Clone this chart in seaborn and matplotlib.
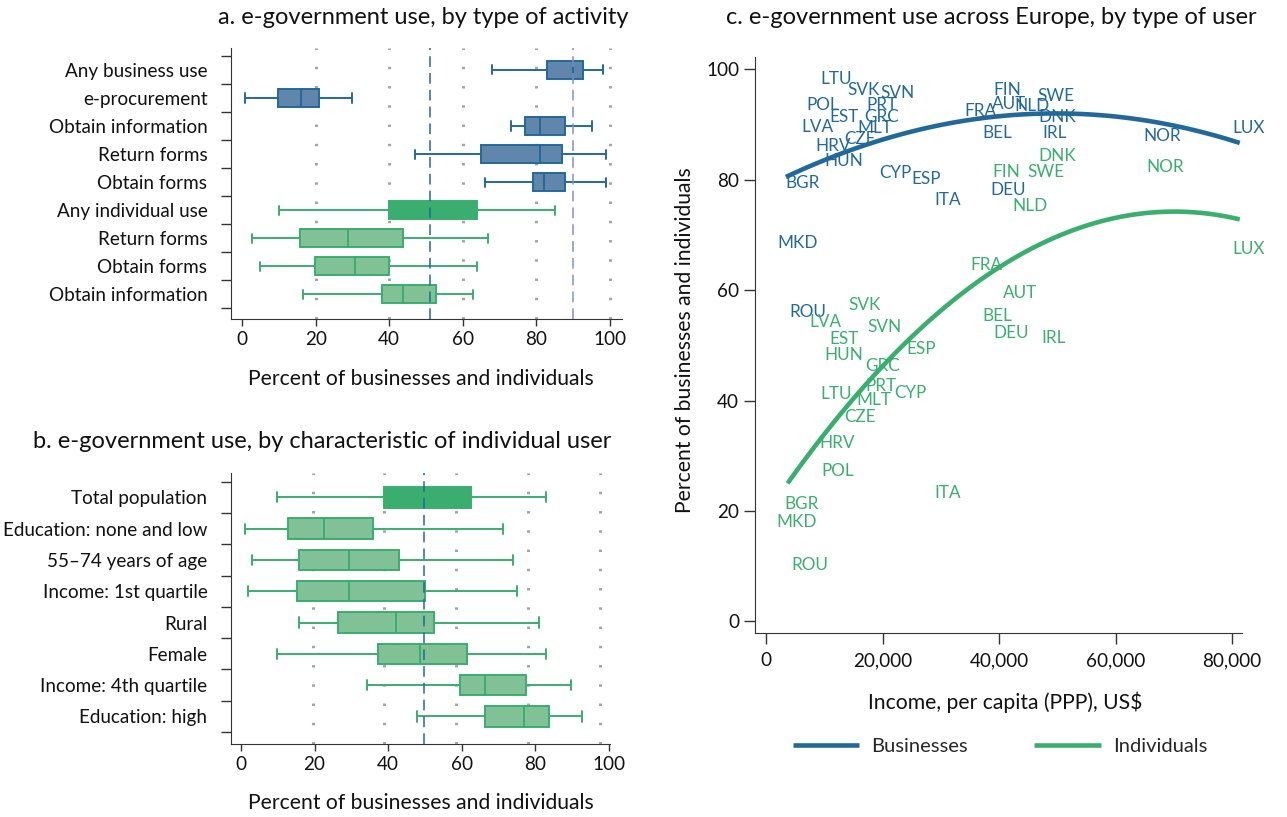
import numpy as np
import pandas as pd
import matplotlib.pyplot as plt
import seaborn as sns

sns.set_style("ticks")
plt.rcParams["font.family"] = ["Lato", "DejaVu Sans"]
plt.rcParams["axes.edgecolor"] = "#333333"
plt.rcParams["xtick.color"] = "#333333"
plt.rcParams["ytick.color"] = "#333333"
plt.rcParams["xtick.labelcolor"] = "#111111"
plt.rcParams["ytick.labelcolor"] = "#111111"

BLUE = "#22699a"
BLUE_FILL = "#6186ab"
GREEN = "#3aae6e"
GREEN_FILL = "#80c295"
LAVENDER = "#7f90d0"

# --- panel a: e-government use by type of activity (five-number summaries)
act_labels = ["Any business use", "e-procurement", "Obtain information", "Return forms",
              "Obtain forms", "Any individual use", "Return forms", "Obtain forms",
              "Obtain information"]
act_group = ["biz", "biz", "biz", "biz", "biz", "ind_all", "ind", "ind", "ind"]
act_min = [68, 0.8, 73, 47, 66, 10, 2.6, 4.8, 16.7]
act_q1 = [82.9, 9.9, 76.9, 65, 79, 39.9, 15.8, 19.7, 38]
act_med = [89.9, 15.9, 81, 81, 82, 51, 28.9, 30.8, 43.7]
act_q3 = [92.8, 20.8, 87.8, 86.9, 87.8, 63.8, 43.7, 39.9, 52.7]
act_max = [98, 29.9, 95.1, 98.9, 98.9, 85, 67, 63.9, 62.9]

# --- panel b: individual use by characteristic of user
char_labels = ["Total population", "Education: none and low", "55–74 years of age",
               "Income: 1st quartile", "Rural", "Female", "Income: 4th quartile",
               "Education: high"]
char_group = ["ind_all", "ind", "ind", "ind", "ind", "ind", "ind", "ind"]
char_min = [9.7, 1.1, 3, 1.9, 15.7, 9.9, 34.2, 47.8]
char_q1 = [39, 12.7, 15.7, 15.2, 26.4, 37.2, 59.6, 66.3]
char_med = [49.7, 22.5, 29.3, 29.3, 42, 48.7, 66.3, 77]
char_q3 = [62.5, 35.8, 42.9, 49.9, 52.5, 61.3, 77.5, 83.8]
char_max = [82.9, 71.1, 74, 75, 81, 82.9, 89.6, 92.6]

# --- panel c: countries, income per capita (PPP, US$) and share using e-government
countries = ["LTU", "SVK", "SVN", "POL", "PRT", "EST", "GRC", "LVA", "MLT", "CZE",
             "HRV", "HUN", "BGR", "CYP", "ESP", "ITA", "FIN", "FRA", "AUT", "NLD",
             "SWE", "DNK", "BEL", "IRL", "NOR", "LUX", "DEU", "MKD", "ROU"]
income_biz = [9380, 14040, 19570, 6940, 17180, 10800, 16940, 6090, 15750, 13360,
              8530, 10070, 3240, 19450, 25030, 28830, 38950, 34070, 38780, 42650,
              46570, 46740, 37070, 47480, 64780, 80010, 38500, 1880, 4090]
share_biz = [98.2, 96.2, 95.6, 93.5, 93.6, 91.4, 91.4, 89.6, 89.3, 87.3,
             86.1, 83.3, 79.3, 81.2, 80.2, 76.4, 96.3, 92.5, 93.7, 93.4,
             95.1, 91.4, 88.4, 88.5, 87.9, 89.4, 78.1, 68.5, 56.1]
income_ind = [9380, 14160, 17450, 9500, 17060, 10800, 17010, 7510, 15580, 13480,
              9210, 10070, 3120, 22010, 24110, 28950, 38900, 35090, 40650, 42310,
              44870, 46740, 37070, 47310, 65220, 80010, 38950, 1830, 4380]
share_ind = [41.2, 57.3, 53.4, 27.2, 42.6, 51.1, 46.2, 54.3, 40.1, 37.1,
             32.3, 48.2, 21.2, 41.4, 49.3, 23.2, 81.4, 64.5, 59.4, 75.3,
             81.4, 84.3, 55.3, 51.3, 82.3, 67.4, 52.3, 18.0, 10.2]

# points
fit_biz_x = [3410, 16040, 33100, 47310, 58690, 70070, 81320]
fit_biz_y = [80.4, 86.1, 90.3, 92.0, 91.7, 89.6, 86.7]
fit_ind_x = [3700, 12620, 24000, 33100, 39920, 50160, 58690, 67220, 81320]
fit_ind_y = [25.2, 37.1, 50.6, 58.6, 64.2, 69.8, 73.0, 74.1, 72.7]

styles = {"biz": (BLUE_FILL, BLUE), "ind_all": (GREEN, GREEN), "ind": (GREEN_FILL, GREEN)}

TICK_FS = 13.6
LABEL_FS = 15.2
TITLE_FS = 17


def box_panel(ax, labels, groups, mins, q1s, meds, q3s, maxs):
    rows = []
    for i in range(len(labels)):
        for v in (mins[i], q1s[i], meds[i], q3s[i], maxs[i]):
            rows.append({"row": i, "value": v, "group": groups[i]})
    df = pd.DataFrame(rows)
    order = list(range(len(labels)))
    for grp, (fill, line) in styles.items():
        sub = df[df["group"] == grp]
        if sub.empty:
            continue
        sns.boxplot(data=sub, x="value", y="row", order=order, orient="y",
                    whis=(0, 100), width=0.65, color=fill, linecolor=line,
                    linewidth=1.4, saturation=1, showfliers=False, ax=ax)
    n = len(labels)
    ax.set_yticks(np.arange(-0.5, n), labels=[""] * (n + 1))
    ax.set_yticks(range(n), labels=labels, minor=True)
    ax.tick_params(axis="y", which="major", length=7, width=1)
    ax.tick_params(axis="y", which="minor", length=0, pad=17, labelsize=TICK_FS)
    ax.tick_params(axis="x", length=5, width=1, labelsize=TICK_FS)
    ax.set_xticks([0, 20, 40, 60, 80, 100])
    ax.set_ylim(n - 0.5 + 0.38, -0.5 - 0.28)
    ax.set_xlabel("")
    ax.set_ylabel("")
    sns.despine(ax=ax)


fig = plt.figure(figsize=(12.87, 8.17), dpi=100)

# panel a
ax_a = fig.add_axes([0.1795, 0.6095, 0.3038, 0.3317])
for g in [20, 40, 60, 80, 100]:
    ax_a.axvline(g, color="#a5a5a5", ls=(0, (0.8, 5.5)), lw=2.2, zorder=0)
box_panel(ax_a, act_labels, act_group, act_min, act_q1, act_med, act_q3, act_max)
ax_a.axvline(act_med[5], color=BLUE, ls=(0, (7, 4)), lw=1.1, zorder=6)
ax_a.axvline(act_med[0], color=LAVENDER, ls=(0, (7, 4)), lw=1.1, zorder=6)
ax_a.set_xlim(-3, 103.3)

# panel b
ax_b = fig.add_axes([0.1795, 0.0894, 0.2945, 0.3317])
for g in [19.5, 39, 58.5, 78, 97.5]:
    ax_b.axvline(g, color="#a5a5a5", ls=(0, (0.8, 5.5)), lw=2.2, zorder=0)
box_panel(ax_b, char_labels, char_group, char_min, char_q1, char_med, char_q3, char_max)
ax_b.axvline(char_med[0], color=BLUE, ls=(0, (7, 4)), lw=1.1, zorder=6)
ax_b.set_xlim(-2.7, 100.3)

# panel c
ax_c = fig.add_axes([0.5866, 0.2252, 0.3784, 0.7050])
sns.regplot(x=fit_biz_x, y=fit_biz_y, order=2, ci=None, scatter=False, truncate=True,
            line_kws=dict(color=BLUE, lw=3.3, solid_capstyle="butt"), ax=ax_c)
sns.regplot(x=fit_ind_x, y=fit_ind_y, order=2, ci=None, scatter=False, truncate=True,
            line_kws=dict(color=GREEN, lw=3.3, solid_capstyle="butt"), ax=ax_c)
for c, x, y in zip(countries, income_biz, share_biz):
    ax_c.text(x, y, c, color=BLUE, fontsize=12.3, ha="left", va="center")
for c, x, y in zip(countries, income_ind, share_ind):
    ax_c.text(x, y, c, color=GREEN, fontsize=12.3, ha="left", va="center")
ax_c.set_xlim(-1900, 81700)
ax_c.set_ylim(-2.1, 102.2)
ax_c.set_xticks([0, 20000, 40000, 60000, 80000],
                labels=["0", "20,000", "40,000", "60,000", "80,000"])
ax_c.set_yticks([0, 20, 40, 60, 80, 100])
ax_c.tick_params(axis="both", length=8, width=1, labelsize=TICK_FS)
ax_c.tick_params(axis="x", pad=6)
ax_c.set_xlabel("")
ax_c.set_ylabel("")
sns.despine(ax=ax_c)

lines = ax_c.get_lines()
fig.legend(lines[:2], ["Businesses", "Individuals"], loc="center",
           bbox_to_anchor=(0.777, 0.086), ncol=2, frameon=False, fontsize=14.5,
           handlelength=3.3, columnspacing=3.3, handletextpad=0.6)

# titles and axis labels
fig.text(0.329, 0.978, "a. e-government use, by type of activity", ha="center",
         va="center", fontsize=TITLE_FS, color="#111111")
fig.text(0.250, 0.459, "b. e-government use, by characteristic of individual user",
         ha="center", va="center", fontsize=TITLE_FS, color="#111111")
fig.text(0.770, 0.978, "c. e-government use across Europe, by type of user",
         ha="center", va="center", fontsize=TITLE_FS, color="#111111")
fig.text(0.327, 0.536, "Percent of businesses and individuals", ha="center",
         va="center", fontsize=LABEL_FS, color="#111111")
fig.text(0.327, 0.017, "Percent of businesses and individuals", ha="center",
         va="center", fontsize=LABEL_FS, color="#111111")
fig.text(0.781, 0.140, "Income, per capita (PPP), US$", ha="center", va="center",
         fontsize=LABEL_FS, color="#111111")
fig.text(0.532, 0.584, "Percent of businesses and individuals", ha="center",
         va="center", rotation=90, fontsize=LABEL_FS, color="#111111")

fig.savefig("out.png", dpi=100)
